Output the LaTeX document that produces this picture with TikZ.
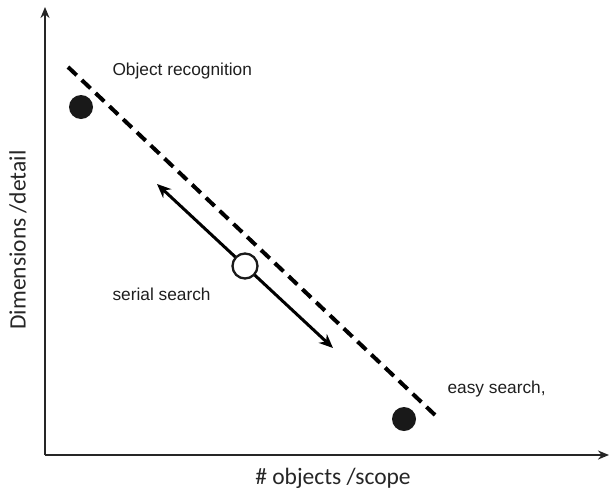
\documentclass[tikz,border=0pt]{standalone}
\usepackage{fontspec}
\setmainfont{Liberation Sans}
\newfontfamily\axisfont{Carlito}
\usetikzlibrary{arrows.meta}
\begin{document}
\begin{tikzpicture}[x=1pt,y=-1pt,
  axis/.style={line width=2.8pt,-{Stealth[length=11pt,width=9pt]}},
  trend/.style={line width=4pt,dash pattern=on 12pt off 7pt},
  dot/.style={circle,fill=black!90,inner sep=0pt,minimum size=24pt},
  opendot/.style={circle,draw=black!90,line width=2.3pt,fill=white,inner sep=0pt,minimum size=25pt},
  motion/.style={line width=3pt,{Stealth[length=14pt,width=12pt]}-{Stealth[length=14pt,width=12pt]}},
  lbl/.style={font=\fontsize{17.3}{19}\selectfont,text=black!88},
  axlbl/.style={font=\axisfont\fontsize{23.5}{25}\selectfont,text=black!85}]
\useasboundingbox (0,0) rectangle (609,490);
\coordinate (origin) at (45,455);
\coordinate (ytop) at (45,7);
\coordinate (xend) at (609,455);
\draw[axis,draw=black!85] (origin) -- (ytop);
\draw[axis,draw=black!85] (origin) -- (xend);
\coordinate (ds) at (68,67);
\coordinate (de) at (435,415);
\draw[trend] (ds) -- (de);
\node[dot] (hi) at (81,107) {};
\node[dot] (lo) at (404,419) {};
\coordinate (ma) at (157,184);
\coordinate (mb) at (333,348);
\draw[motion] (ma) -- (mb);
\node[opendot] (mid) at (245,266) {};
\node[lbl,anchor=west] (objrec) at (109,71) {Object recognition};
\node[lbl,anchor=west] (serial) at (109,294) {serial search};
\node[lbl,anchor=west] (easy) at (444,389) {easy search,};
\node[axlbl] (xl) at (333,478) {\# objects /scope};
\node[axlbl,rotate=90] (yl) at (18,240) {Dimensions /detail};
\end{tikzpicture}
\end{document}
